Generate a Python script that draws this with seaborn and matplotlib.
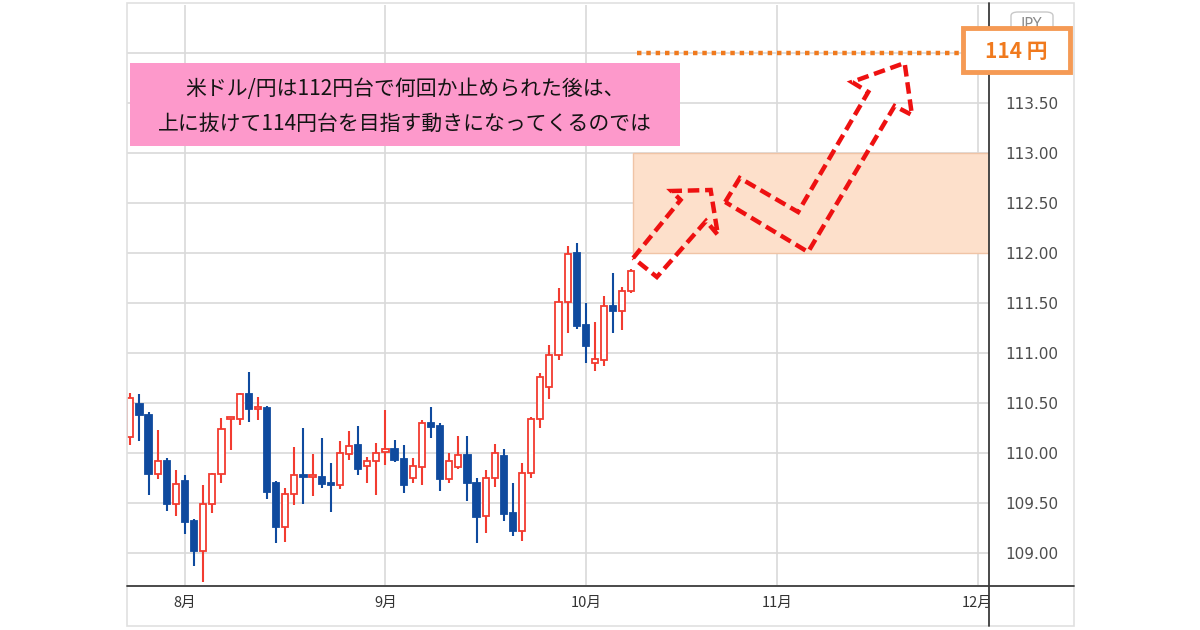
import numpy as np
import pandas as pd
import matplotlib
matplotlib.use("Agg")
import matplotlib.pyplot as plt
import seaborn as sns
from matplotlib.patches import Rectangle, Polygon, FancyBboxPatch
from matplotlib.lines import Line2D
from matplotlib.transforms import Bbox, TransformedBbox

# daily USD/JPY candles, 2021-07-23 .. 2021-10-08
opens = [110.16, 110.49, 110.38, 109.79, 109.92, 109.49, 109.72, 109.32, 109.02, 109.49,
         109.79, 110.34, 110.34, 110.59, 110.44, 110.45, 109.70, 109.26, 109.59, 109.78,
         109.76, 109.76, 109.70, 109.68, 109.99, 110.08, 109.87, 109.92, 110.01, 110.04,
         109.94, 109.75, 109.86, 110.30, 110.27, 109.74, 109.86, 109.98, 109.70, 109.37,
         109.75, 109.97, 109.40, 109.22, 109.80, 110.34, 110.66, 110.98, 111.51, 112.00,
         111.28, 110.90, 110.93, 111.47, 111.42, 111.62]
highs = [110.60, 110.59, 110.41, 110.23, 109.95, 109.83, 109.78, 109.34, 109.68, 109.80,
         110.35, 110.36, 110.60, 110.81, 110.56, 110.47, 109.72, 109.65, 110.06, 110.25,
         109.99, 110.15, 109.90, 110.12, 110.22, 110.27, 109.96, 110.10, 110.43, 110.13,
         110.08, 109.95, 110.33, 110.46, 110.30, 110.00, 110.17, 110.17, 109.75, 109.83,
         110.09, 110.04, 109.70, 109.90, 110.36, 110.80, 111.08, 111.65, 112.07, 112.10,
         111.50, 111.31, 111.57, 111.80, 111.66, 111.84]
lows = [110.08, 110.12, 109.58, 109.74, 109.42, 109.37, 109.19, 108.87, 108.71, 109.40,
        109.70, 110.03, 110.28, 110.31, 110.33, 109.54, 109.10, 109.11, 109.48, 109.49,
        109.57, 109.65, 109.41, 109.64, 109.93, 109.78, 109.70, 109.58, 109.88, 109.91,
        109.60, 109.70, 109.68, 110.15, 109.62, 109.70, 109.84, 109.52, 109.10, 109.20,
        109.66, 109.32, 109.17, 109.12, 109.75, 110.25, 110.54, 110.93, 111.20, 111.24,
        110.90, 110.82, 110.87, 111.20, 111.23, 111.60]
closes = [110.55, 110.38, 109.79, 109.92, 109.49, 109.69, 109.31, 109.02, 109.49, 109.79,
          110.24, 110.35, 110.59, 110.44, 110.46, 109.61, 109.26, 109.59, 109.78, 109.76,
          109.78, 109.69, 109.68, 110.00, 110.07, 109.84, 109.92, 110.00, 110.04, 109.93,
          109.68, 109.87, 110.30, 110.26, 109.74, 109.92, 109.98, 109.70, 109.36, 109.75,
          110.00, 109.39, 109.22, 109.80, 110.34, 110.76, 110.98, 111.51, 111.99, 111.27,
          111.07, 110.94, 111.47, 111.42, 111.62, 111.82]

start_date = "2021-07-23"
price_ticks = [109.0, 109.5, 110.0, 110.5, 111.0, 111.5, 112.0, 112.5, 113.0, 113.5, 114.0]

# forecast annotations (bar index, price)
zone_low, zone_high = 112.0, 113.0
target_price = 114.0
arrow1_x = [55.2, 60.4, 59.4, 63.7, 64.5, 63.2, 57.8]
arrow1_y = [111.95, 112.53, 112.62, 112.63, 112.18, 112.32, 111.76]
arrow2_x = [65.3, 66.9, 73.3, 81.0, 79.2, 85.0, 85.8, 83.9, 74.4]
arrow2_y = [112.51, 112.75, 112.41, 113.61, 113.71, 113.90, 113.38, 113.47, 112.01]

note_lines = ["米ドル/円は112円台で何回か止められた後は、",
              "上に抜けて114円台を目指す動きになってくるのでは"]
target_label = "114 円"

up_col = "#f23b30"
down_col = "#0f4a9e"
grid_col = "#d9d9d9"
axis_col = "#3a3a3a"
orange = "#f07a1e"

sns.set_theme(style="white")
plt.rcParams["font.family"] = ["DejaVu Sans", "Noto Sans CJK JP"]
jp = ["Noto Sans CJK JP", "DejaVu Sans"]

W, H = 1200, 630
fig = plt.figure(figsize=(12, 6.3), dpi=100)


def fx(px):
    return px / W


def fy(py):
    return 1 - py / H


ax = fig.add_axes([fx(127), fy(585), fx(989) - fx(127), fy(5) - fy(585)])

df = pd.DataFrame({"date": pd.bdate_range(start_date, periods=len(opens)),
                   "open": opens, "high": highs, "low": lows, "close": closes})
df["i"] = np.arange(len(df))
df["up"] = df["close"] >= df["open"]

# month ticks on a business-day axis extended into the future
all_days = pd.bdate_range(start_date, "2021-12-10")
first_idx = [j for j in range(1, len(all_days)) if all_days[j].month != all_days[j - 1].month]
month_labels = [f"{all_days[j].month}月" for j in first_idx]

# forecast zone
ax.add_patch(Rectangle((55.2, zone_low), 60, zone_high - zone_low,
                       facecolor="#fde0cb", edgecolor="#f0c4a6", lw=1, zorder=1))

# candles
for up, grp in df.groupby("up"):
    col = up_col if up else down_col
    ax.vlines(grp["i"], grp["low"], grp["high"], color=col, lw=1.5, zorder=3)
    body_lo = np.minimum(grp["open"], grp["close"])
    body_h = np.maximum(np.abs(grp["close"] - grp["open"]), 0.015)
    ax.bar(grp["i"], body_h, bottom=body_lo, width=0.68,
           color="white" if up else down_col, edgecolor=col, lw=1.3, zorder=4)

# target line
sns.lineplot(x=[55.6, 91.3], y=[target_price, target_price], ax=ax, color=orange,
             lw=3.2, linestyle=(0, (1, 1.1)), zorder=5)

# dashed arrows
for xs, ys in [(arrow1_x, arrow1_y), (arrow2_x, arrow2_y)]:
    ax.add_patch(Polygon(np.column_stack([xs, ys]), closed=True, fill=False,
                         edgecolor="#ee1111", lw=3.2, linestyle=(0, (2.6, 1.3)),
                         joinstyle="miter", zorder=6))

ax.set_xlim(-0.37, 94.26)
ax.set_ylim(108.68, 114.48)
ax.set_xticks(first_idx)
ax.set_xticklabels(month_labels, family=jp, fontsize=10.5, color="#333333")
ax.set_yticks(price_ticks)
ax.set_yticklabels([f"{v:.2f}" if v < 114 else "" for v in price_ticks],
                   fontsize=11, color="#4d4d4d")
ax.yaxis.tick_right()
ax.tick_params(axis="both", length=0)
ax.tick_params(axis="y", pad=12)
ax.tick_params(axis="x", pad=8)
ax.grid(True, color=grid_col, lw=1.2)
ax.set_axisbelow(True)
for s in ax.spines.values():
    s.set_visible(False)
ax.set_xlabel("")
ax.set_ylabel("")

clip = TransformedBbox(Bbox.from_extents(fx(127), 0, fx(989), 1), fig.transFigure)
for lbl in ax.get_xticklabels():
    lbl.set_clip_box(clip)
    lbl.set_clip_on(True)

# widget frame and axis lines
fig.add_artist(Rectangle((fx(127), fy(626)), fx(1074) - fx(127), fy(3) - fy(626),
                         fill=False, edgecolor="#e0e0e0", lw=1.2))
fig.add_artist(Line2D([fx(127), fx(1074)], [fy(586), fy(586)], color=axis_col, lw=1.3))
fig.add_artist(Line2D([fx(989), fx(989)], [fy(3), fy(626)], color=axis_col, lw=1.3))

# currency tag (partly hidden behind the target label)
fig.add_artist(FancyBboxPatch((fx(1011), fy(40)), fx(1053) - fx(1011), fy(12) - fy(40),
                              boxstyle="round,pad=0,rounding_size=0.006",
                              facecolor="white", edgecolor="#c8c8c8", lw=1))
fig.text(fx(1032), fy(25), "JPY", ha="center", va="center", fontsize=10.5, color="#8a8a8a")

# target label box
fig.add_artist(Rectangle((fx(963), fy(72)), fx(1070) - fx(963), fy(28) - fy(72),
                         facecolor="white", edgecolor="#f59a55", lw=3.5, zorder=10))
fig.text(fx(1016), fy(51), target_label, ha="center", va="center", family=jp,
         fontsize=15, fontweight="bold", color=orange, zorder=11)

# note box
fig.add_artist(Rectangle((fx(130), fy(146)), fx(680) - fx(130), fy(63) - fy(146),
                         facecolor="#fd99cb", edgecolor="none", zorder=10))
fig.text(fx(405), fy(89), note_lines[0], ha="center", va="center", family=jp,
         fontsize=15, color="#141414", zorder=11)
fig.text(fx(405), fy(124), note_lines[1], ha="center", va="center", family=jp,
         fontsize=15, color="#141414", zorder=11)

fig.savefig("out.png", dpi=100, facecolor="white")
